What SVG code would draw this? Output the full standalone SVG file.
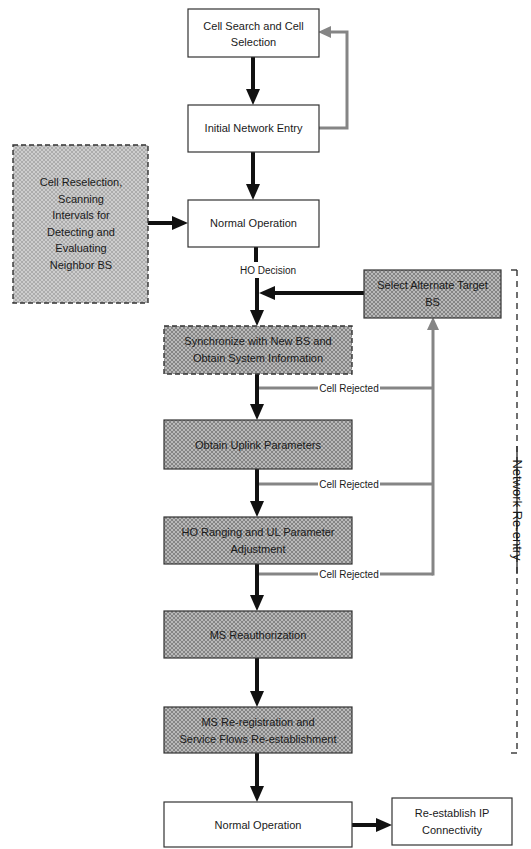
<svg xmlns="http://www.w3.org/2000/svg" width="531" height="849" viewBox="0 0 531 849">
<style>
  .box { stroke: #333; stroke-width: 1.2; }
  .white { fill: #ffffff; }
  .dark { fill: url(#hatch); }
  .light { fill: url(#hatchLight); }
  .dash { stroke-dasharray: 5 3; stroke-width: 1.4; }
  text { font-family: "Liberation Sans", Arial, sans-serif; font-size: 11px; fill: #1a1a1a; text-anchor: middle; }
  .small { font-size: 10px; }
  .big { font-size: 13px; }
  .blk { stroke: #111; stroke-width: 4; fill: none; }
  .gry { stroke: #858585; stroke-width: 3; fill: none; }
</style>
<defs>
  <pattern id="hatch" width="4" height="4" patternUnits="userSpaceOnUse">
    <rect width="4" height="4" fill="#b9b9b9"/>
    <path d="M0,0 L4,4 M4,0 L0,4" stroke="#777777" stroke-width="0.8"/>
  </pattern>
  <pattern id="hatchLight" width="4" height="4" patternUnits="userSpaceOnUse">
    <rect width="4" height="4" fill="#cdcdcd"/>
    <path d="M0,0 L4,4 M4,0 L0,4" stroke="#9e9e9e" stroke-width="0.7"/>
  </pattern>
  <marker id="ab" viewBox="0 0 16 14" refX="10" refY="7" markerWidth="16" markerHeight="14" orient="auto" markerUnits="userSpaceOnUse">
    <path d="M0,0 L16,7 L0,14 z" fill="#111"/>
  </marker>
  <marker id="ag" viewBox="0 0 13 12" refX="8" refY="6" markerWidth="13" markerHeight="12" orient="auto" markerUnits="userSpaceOnUse">
    <path d="M0,0 L13,6 L0,12 z" fill="#858585"/>
  </marker>
</defs>

<g id="connectors">
  <line class="blk" x1="253" y1="57" x2="253" y2="99" marker-end="url(#ab)"/>
  <line class="blk" x1="253" y1="152" x2="253" y2="194" marker-end="url(#ab)"/>
  <line class="blk" x1="148" y1="223" x2="182" y2="223" marker-end="url(#ab)"/>
  <polyline class="gry" points="319,128 347,128 347,32 323,32" marker-end="url(#ag)"/>
  <line class="blk" x1="256" y1="247" x2="256" y2="262"/>
  <text class="small" x="268" y="274">HO Decision</text>
  <line class="blk" x1="257" y1="278" x2="257" y2="320" marker-end="url(#ab)"/>
  <line class="blk" x1="364" y1="293" x2="265" y2="293" marker-end="url(#ab)"/>
  <line class="blk" x1="257" y1="374" x2="257" y2="414" marker-end="url(#ab)"/>
  <line class="blk" x1="257" y1="469" x2="257" y2="511" marker-end="url(#ab)"/>
  <line class="blk" x1="257" y1="564" x2="257" y2="605" marker-end="url(#ab)"/>
  <line class="blk" x1="257" y1="658" x2="257" y2="701" marker-end="url(#ab)"/>
  <line class="blk" x1="257" y1="753" x2="257" y2="796" marker-end="url(#ab)"/>
  <line class="blk" x1="352" y1="825" x2="386" y2="825" marker-end="url(#ab)"/>
  <g id="rejections">
    <line class="gry" x1="259" y1="388" x2="318" y2="388"/>
    <line class="gry" x1="380" y1="388" x2="433" y2="388"/>
    <text class="small" x="349" y="391.5">Cell Rejected</text>
    <line class="gry" x1="259" y1="484" x2="318" y2="484"/>
    <line class="gry" x1="380" y1="484" x2="433" y2="484"/>
    <text class="small" x="349" y="487.5">Cell Rejected</text>
    <line class="gry" x1="259" y1="574" x2="318" y2="574"/>
    <line class="gry" x1="380" y1="574" x2="433" y2="574"/>
    <text class="small" x="349" y="577.5">Cell Rejected</text>
    <line class="gry" x1="433" y1="575.5" x2="433" y2="322" marker-end="url(#ag)"/>
  </g>
</g>

<g id="cell-search">
  <rect class="box white" x="188" y="9" width="131" height="48"/>
  <text x="253.5" y="30">Cell Search and Cell</text>
  <text x="253.5" y="46">Selection</text>
</g>
<g id="initial-entry">
  <rect class="box white" x="188" y="105" width="131" height="47"/>
  <text x="253.5" y="132">Initial Network Entry</text>
</g>
<g id="normal-op-1">
  <rect class="box white" x="188" y="200" width="131" height="47"/>
  <text x="253.5" y="227">Normal Operation</text>
</g>
<g id="reselection">
  <rect class="box light dash" x="13" y="145" width="135" height="158"/>
  <text x="81" y="186">Cell Reselection,</text>
  <text x="81" y="202.5">Scanning</text>
  <text x="81" y="219">Intervals for</text>
  <text x="81" y="235.5">Detecting and</text>
  <text x="81" y="252">Evaluating</text>
  <text x="81" y="268.5">Neighbor BS</text>
</g>
<g id="select-alt">
  <rect class="box dark" x="364" y="270" width="137" height="48"/>
  <text x="432.5" y="289">Select Alternate Target</text>
  <text x="432.5" y="306">BS</text>
</g>
<g id="synchronize">
  <rect class="box dark dash" x="164" y="326" width="188" height="48"/>
  <text x="258" y="345">Synchronize with New BS and</text>
  <text x="258" y="362">Obtain System Information</text>
</g>
<g id="uplink">
  <rect class="box dark" x="164" y="420" width="188" height="49"/>
  <text x="258" y="448.5">Obtain Uplink Parameters</text>
</g>
<g id="ranging">
  <rect class="box dark" x="164" y="517" width="188" height="47"/>
  <text x="258" y="536">HO Ranging and UL Parameter</text>
  <text x="258" y="553">Adjustment</text>
</g>
<g id="reauth">
  <rect class="box dark" x="164" y="611" width="188" height="47"/>
  <text x="258" y="638.5">MS Reauthorization</text>
</g>
<g id="reregistration">
  <rect class="box dark" x="164" y="707" width="188" height="46"/>
  <text x="258" y="726">MS Re-registration and</text>
  <text x="258" y="743">Service Flows Re-establishment</text>
</g>
<g id="normal-op-2">
  <rect class="box white" x="164" y="802" width="188" height="45"/>
  <text x="258" y="828.5">Normal Operation</text>
</g>
<g id="reestablish-ip">
  <rect class="box white" x="392" y="798" width="120" height="47"/>
  <text x="452" y="817">Re-establish IP</text>
  <text x="452" y="834">Connectivity</text>
</g>
<g id="network-reentry">
  <line x1="517" y1="270" x2="517" y2="753" stroke="#333" stroke-width="1.4" stroke-dasharray="6 5"/>
  <line x1="511" y1="270" x2="517" y2="270" stroke="#333" stroke-width="1.4"/>
  <line x1="511" y1="753" x2="517" y2="753" stroke="#333" stroke-width="1.4"/>
  <line x1="517" y1="446" x2="517" y2="574" stroke="#333" stroke-width="1.4"/>
  <text class="big" x="0" y="0" transform="translate(512.5,510) rotate(90)">Network Re-entry</text>
</g>
</svg>
